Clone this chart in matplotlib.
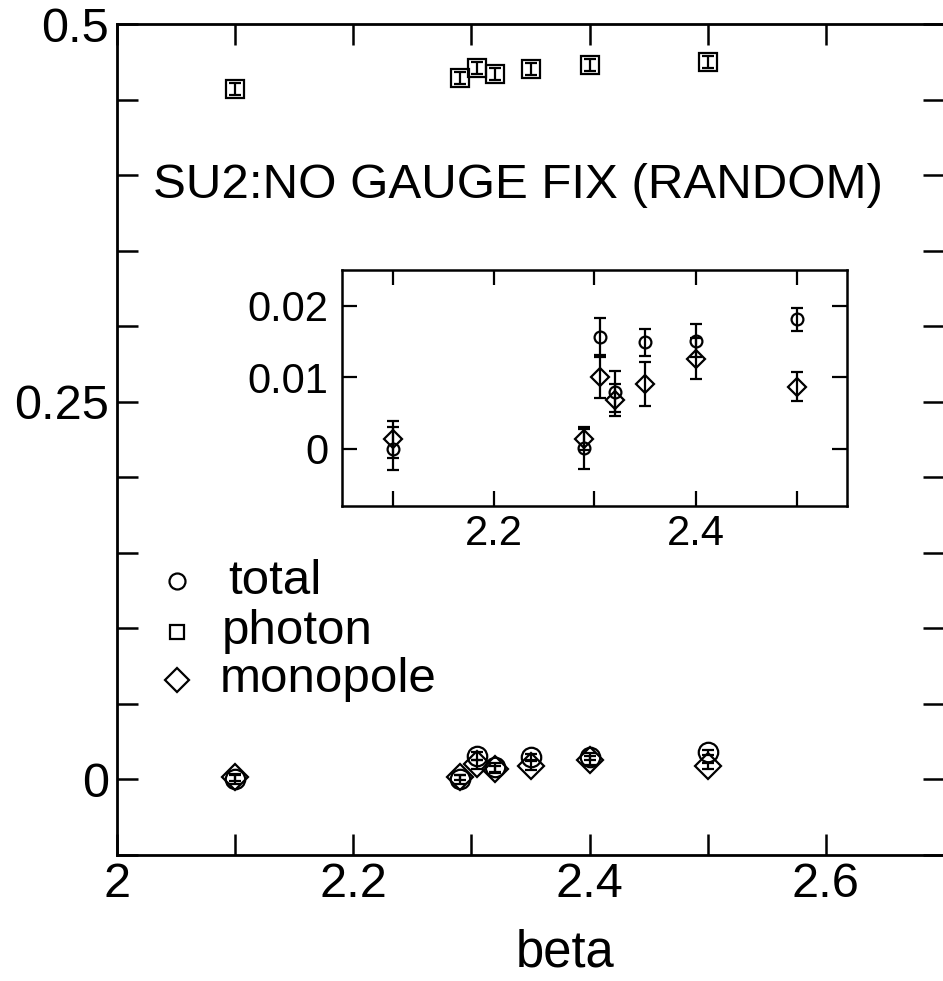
import numpy as np
import matplotlib
matplotlib.use("Agg")
import matplotlib.pyplot as plt
from matplotlib.ticker import MultipleLocator, FuncFormatter

plt.rcParams['font.family'] = ['Liberation Sans', 'DejaVu Sans']

# data
beta = [2.1, 2.29, 2.305, 2.32, 2.35, 2.4, 2.5]
total = [0.0, 0.0001, 0.0157, 0.0080, 0.0149, 0.0151, 0.0181]
total_err = [0.0030, 0.0029, 0.0026, 0.0029, 0.0019, 0.0023, 0.0016]
mono = [0.0013, 0.0013, 0.0100, 0.0068, 0.0091, 0.0126, 0.0087]
mono_err = [0.0026, 0.0015, 0.0029, 0.0022, 0.0031, 0.0029, 0.0020]
photon = [0.457, 0.464, 0.471, 0.467, 0.470, 0.473, 0.475]
photon_err = [0.004, 0.004, 0.004, 0.004, 0.004, 0.004, 0.004]
legend_labels = ['total', 'photon', 'monopole']

fmt = FuncFormatter(lambda v, p: f"{v:g}")

fig = plt.figure(figsize=(9.43, 9.81), dpi=100)
ax = fig.add_axes([117 / 943, 126 / 981, 827 / 943, 831 / 981])

eb = dict(ls='none', color='black', mfc='none', mec='black', mew=1.6,
          elinewidth=1.6, capsize=4, capthick=1.6)
ax.errorbar(beta, photon, yerr=photon_err, fmt='s', ms=12.5, **eb)
ax.errorbar(beta, total, yerr=total_err, fmt='o', ms=14, **eb)
ax.errorbar(beta, mono, yerr=mono_err, fmt='D', ms=13, **eb)

ax.set_xlim(2.0, 2.7)
ax.set_ylim(-0.05, 0.5)
ax.xaxis.set_major_locator(MultipleLocator(0.2))
ax.xaxis.set_minor_locator(MultipleLocator(0.1))
ax.yaxis.set_major_locator(MultipleLocator(0.25))
ax.yaxis.set_minor_locator(MultipleLocator(0.05))
ax.xaxis.set_major_formatter(fmt)
ax.yaxis.set_major_formatter(fmt)
ax.tick_params(which='both', direction='in', top=True, right=True,
               length=15, width=1.8, labelsize=35)
ax.tick_params(axis='x', pad=5)
ax.tick_params(axis='y', pad=6)
for s in ax.spines.values():
    s.set_linewidth(2)
ax.set_xlabel('beta', fontsize=36.5)
ax.xaxis.set_label_coords((565 - 117) / 827, -0.088)

ax.text(0.044, 0.806, 'SU2:NO GAUGE FIX (RANDOM)', transform=ax.transAxes,
        fontsize=35.5, ha='left', va='center')

# legend drawn by hand: marker then label
leg_y = [581, 632, 680]
leg_txt_x = [228, 222, 220]
for m, ms, lab, yp, tx in zip(['o', 's', 'D'], [11.5, 10.5, 12], legend_labels, leg_y, leg_txt_x):
    yf = 1 - yp / 981
    fig.lines.append(plt.Line2D([177 / 943], [yf], transform=fig.transFigure,
                                marker=m, ms=ms, mfc='none', mec='black',
                                mew=1.6, ls='none'))
    fig.text(tx / 943, yf, lab, fontsize=35.5, va='center', ha='left')

# inset
ins = fig.add_axes([342 / 943, 1 - 506 / 981, 505 / 943, 236 / 981])
ins.errorbar(beta, total, yerr=total_err, fmt='o', ms=8.5, **eb)
ins.errorbar(beta, mono, yerr=mono_err, fmt='D', ms=9, **eb)
ins.set_xlim(2.05, 2.55)
ins.set_ylim(-0.008, 0.025)
ins.xaxis.set_major_locator(MultipleLocator(0.2))
ins.xaxis.set_minor_locator(MultipleLocator(0.1))
ins.yaxis.set_major_locator(MultipleLocator(0.01))
ins.xaxis.set_major_formatter(fmt)
ins.yaxis.set_major_formatter(fmt)
ins.tick_params(which='both', direction='in', top=True, right=True,
                length=11, width=1.6, labelsize=30)
ins.tick_params(axis='x', pad=6)
ins.tick_params(axis='y', pad=10)
for s in ins.spines.values():
    s.set_linewidth(1.8)

fig.savefig('out.png', dpi=100)
